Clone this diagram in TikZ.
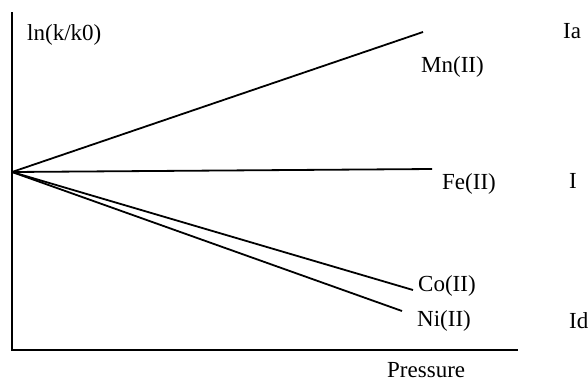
\documentclass[tikz,border=0pt]{standalone}
\usepackage{fontspec}
\setmainfont{Liberation Serif}
\begin{document}
\begin{tikzpicture}[x=1bp,y=-1bp,
  lbl/.style={inner sep=0pt,anchor=base west,font=\fontsize{23bp}{27bp}\selectfont},
  axis/.style={line width=2.2bp},
  curve/.style={line width=1.8bp}]
\useasboundingbox (0,0) rectangle (588,382);
\coordinate (top) at (12,12);
\coordinate (orig) at (12,350);
\coordinate (xend) at (518,350);
\coordinate (o) at (12,172);
\coordinate (mn) at (423,32);
\coordinate (fe) at (432,169);
\coordinate (co) at (413,290);
\coordinate (ni) at (402,311);
\draw[axis] (top) -- (orig) -- (xend);
\draw[curve] (o) -- (mn);
\draw[curve] (o) -- (fe);
\draw[curve] (o) -- (co);
\draw[curve] (o) -- (ni);
\node[lbl] (ylab) at (27,40) {ln(k/k0)};
\node[lbl] (mnl) at (421,72) {Mn(II)};
\node[lbl] (ia) at (563,38) {Ia};
\node[lbl] (fel) at (442,189) {Fe(II)};
\node[lbl] (i) at (569,188) {I};
\node[lbl] (col) at (418,291) {Co(II)};
\node[lbl] (nil) at (417,326) {Ni(II)};
\node[lbl] (id) at (569,328) {Id};
\node[lbl] (xlab) at (387,377) {Pressure};
\end{tikzpicture}
\end{document}
